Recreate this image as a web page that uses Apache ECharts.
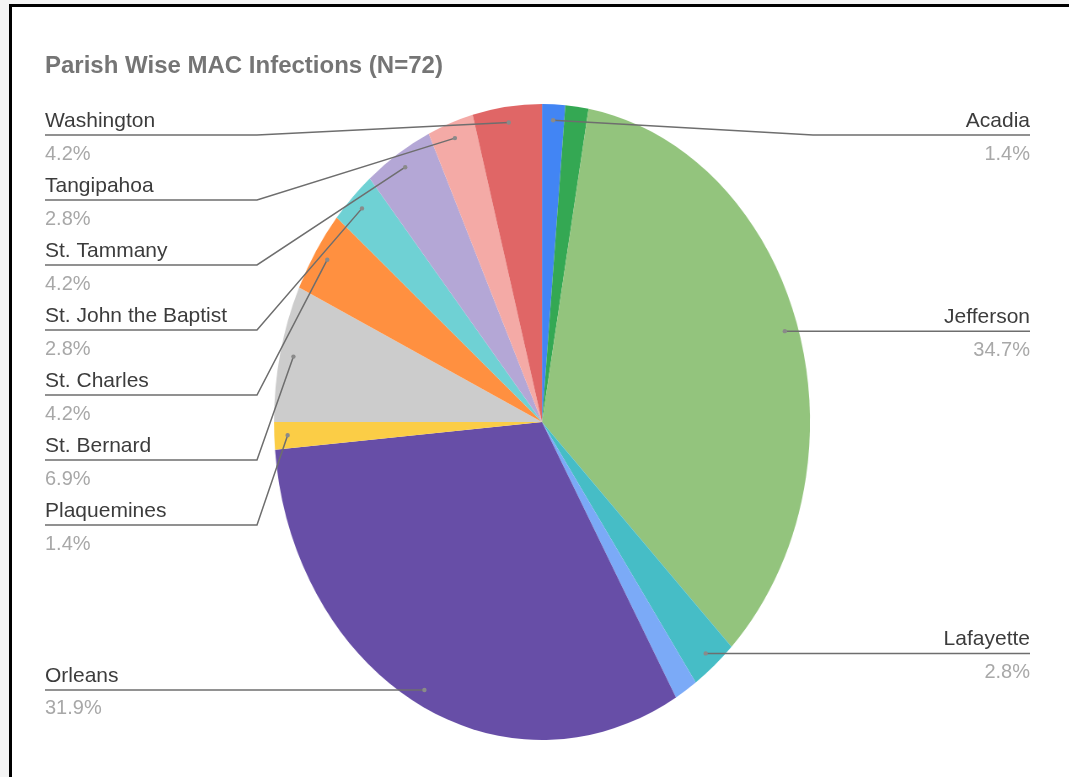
<!DOCTYPE html>
<html>
<head>
<meta charset="utf-8">
<title>Parish Wise MAC Infections</title>
<script src="https://cdn.jsdelivr.net/npm/echarts/dist/echarts.min.js"></script>
<style>
html, body { margin: 0; padding: 0; background: #f4f4f4; overflow: hidden; }
#stage { position: relative; width: 1069px; height: 777px; overflow: hidden; }
#frame { position: absolute; left: 9px; top: 4px; right: 0; bottom: 0; background: #fff;
         border-top: 3px solid #000; border-left: 3px solid #000; }
#pie { position: absolute; left: 0; top: 0; height: 777px; transform-origin: 0 0; }
#labels { position: absolute; left: 0; top: 0; width: 1069px; height: 777px; }
</style>
</head>
<body>
<div id="stage">
  <div id="frame"></div>
  <div id="pie"></div>
  <div id="labels"></div>
</div>
<script>
// data (counts, N = 72), in the sheet's order, clockwise from 12 o'clock
var parishes = ['Acadia', 'Other parish 1', 'Jefferson', 'Lafayette', 'Other parish 2', 'Orleans',
                'Plaquemines', 'St. Bernard', 'St. Charles', 'St. John the Baptist', 'St. Tammany',
                'Tangipahoa', 'Washington'];
var cases = [1, 1, 25, 2, 1, 23, 1, 5, 3, 2, 3, 2, 3];
var colors = ['#4285f4', '#34a853', '#93c47d', '#46bdc6', '#7baaf7', '#674ea7',
              '#fbcd46', '#cccccc', '#ff9040', '#6fd1d4', '#b4a7d6', '#f4aaa6', '#e06666'];
// slices google left without a label
var unlabeled = ['Other parish 1', 'Other parish 2'];

// the pie in the picture is an ellipse, so it is drawn in its own (x-squeezed) chart
var PIE_CX = 542, PIE_CY = 422, PIE_RX = 268, PIE_RY = 318;
var SX = PIE_RX / PIE_RY;
var DOT_R = 0.95;
var TEXT_LEFT = 45, TEXT_RIGHT = 1030, BEND_LEFT = 257, BEND_RIGHT = 813;
var ROW_MIN = 135, ROW_GAP = 65, NAME_LH = 28;

var total = cases.reduce(function (s, v) { return s + v; }, 0);
var anchors = [];
var acc = 0;
cases.forEach(function (v, i) {
    var a = (acc + v / 2) / total * 2 * Math.PI;
    acc += v;
    anchors.push({
        i: i,
        side: a < Math.PI ? 'right' : 'left',
        x: PIE_CX + Math.sin(a) * PIE_RX * DOT_R,
        y: PIE_CY - Math.cos(a) * PIE_RY * DOT_R
    });
});

// stack labels on each side, pushed down so they don't overlap
var rowY = {};
['left', 'right'].forEach(function (side) {
    var prev = -Infinity;
    anchors.filter(function (a) {
        return a.side === side && unlabeled.indexOf(parishes[a.i]) < 0;
    }).sort(function (p, q) { return p.y - q.y; }).forEach(function (a) {
        var y = Math.max(a.y, ROW_MIN, prev + ROW_GAP);
        rowY[a.i] = y;
        prev = y;
    });
});

var pieDom = document.getElementById('pie');
pieDom.style.width = Math.round(1069 / SX) + 'px';
pieDom.style.transform = 'scaleX(' + SX + ')';
var pieChart = echarts.init(pieDom);
pieChart.setOption({
    animation: false,
    backgroundColor: 'transparent',
    series: [{
        type: 'pie',
        center: [PIE_CX / SX, PIE_CY],
        radius: PIE_RY,
        startAngle: 90,
        label: { show: false },
        labelLine: { show: false },
        emphasis: { disabled: true },
        data: parishes.map(function (p, i) {
            return { name: p, value: cases[i], itemStyle: { color: colors[i] } };
        })
    }]
});

var labelChart = echarts.init(document.getElementById('labels'));
labelChart.setOption({
    animation: false,
    backgroundColor: 'transparent',
    title: {
        text: 'Parish Wise MAC Infections (N=72)',
        left: 40,
        top: 49,
        textStyle: { fontFamily: 'Liberation Sans', fontSize: 24, fontWeight: 'bold', color: '#757575' }
    },
    graphic: anchors.filter(function (a) { return rowY[a.i] !== undefined; }).map(function (a) {
        return { type: 'circle', shape: { cx: a.x, cy: a.y, r: 2.2 }, style: { fill: '#8a8a8a' }, z: 10 };
    }),
    series: [{
        type: 'pie',
        silent: true,
        center: [PIE_CX, PIE_CY],
        radius: PIE_RY,
        startAngle: 90,
        avoidLabelOverlap: false,
        itemStyle: { color: 'rgba(0,0,0,0)' },
        label: {
            show: true,
            position: 'outer',
            fontFamily: 'Liberation Sans',
            formatter: function (p) {
                return '{n|' + p.name + '}\n{p|' + (p.value / total * 100).toFixed(1) + '%}';
            },
            rich: {
                n: { fontSize: 21, lineHeight: NAME_LH, color: '#3c3c3c', fontFamily: 'Liberation Sans' },
                p: { fontSize: 20, lineHeight: 38, color: '#a8a8a8', fontFamily: 'Liberation Sans' }
            }
        },
        labelLine: { show: true, lineStyle: { color: '#6e6e6e', width: 1.5 } },
        labelLayout: function (params) {
            var a = anchors[params.dataIndex];
            var y = rowY[params.dataIndex];
            if (y === undefined) return {};
            var left = a.side === 'left';
            var endX = left ? TEXT_LEFT : TEXT_RIGHT;
            var bendX = left ? BEND_LEFT : BEND_RIGHT;
            return {
                x: endX,
                y: y - NAME_LH,
                align: left ? 'left' : 'right',
                verticalAlign: 'top',
                labelLinePoints: [[a.x, a.y], [bendX, y], [endX, y]]
            };
        },
        data: parishes.map(function (p, i) {
            var hide = unlabeled.indexOf(p) >= 0;
            return {
                name: p,
                value: cases[i],
                label: { show: !hide },
                labelLine: { show: !hide }
            };
        })
    }]
});
</script>
</body>
</html>
